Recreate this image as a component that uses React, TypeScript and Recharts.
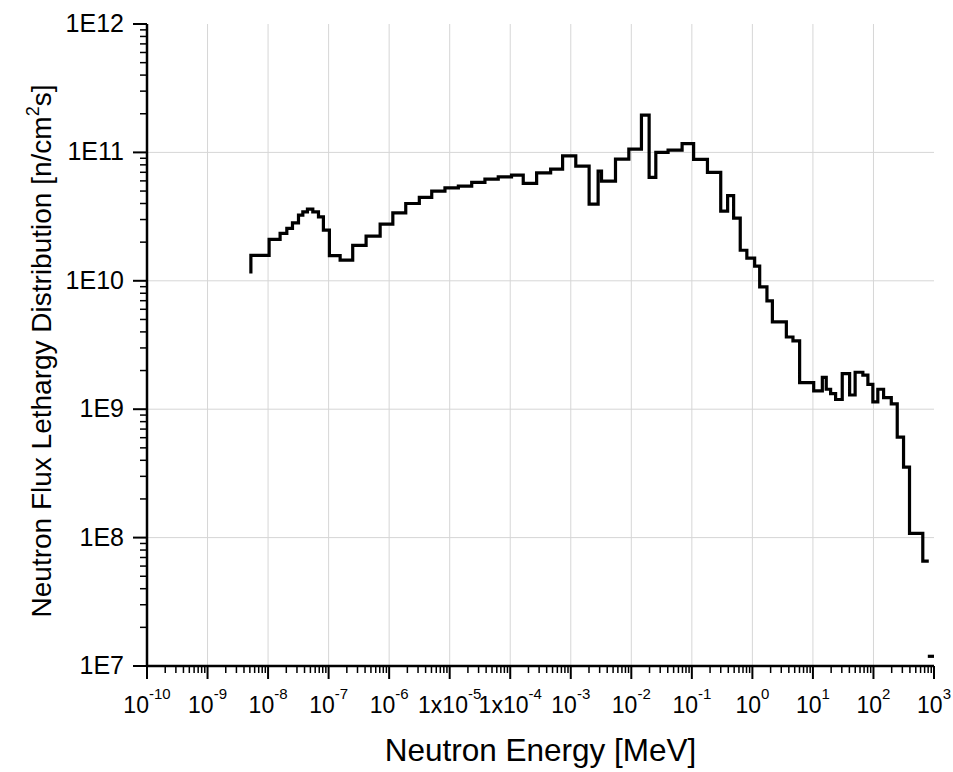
import { LineChart, Line, XAxis, YAxis, ReferenceLine, Label } from "recharts";

// Upper bin edge [MeV] and lethargy flux [n/cm^2 s] of each group (step plot)
const energyMeV = [
    5.2e-9, 1.04e-8, 1.58e-8, 2.04e-8, 2.53e-8, 3.18e-8, 3.75e-8, 4.47e-8, 5.48e-8, 6.8e-8,
    8.2e-8, 1.03e-7, 1.55e-7, 2.5e-7, 4.16e-7, 7.1e-7, 1.15e-6, 1.88e-6, 3.15e-6, 5.05e-6,
    8.35e-6, 1.39e-5, 2.31e-5, 3.82e-5, 6.34e-5, 1.05e-4, 1.64e-4, 2.73e-4, 4.65e-4, 7.33e-4,
    1.21e-3, 2.01e-3, 2.83e-3, 3.22e-3, 5.48e-3, 9.1e-3, 1.47e-2, 1.97e-2, 2.54e-2, 4.05e-2,
    6.9e-2, 0.107, 0.181, 0.30, 0.39, 0.49, 0.63, 0.81, 1.09, 1.32,
    1.74, 2.14, 3.64, 4.68, 6.03, 10.3, 14.3, 16.6, 19.6, 23.7,
    30.5, 40.4, 49.8, 66.8, 80.9, 97.7, 118, 147, 197, 247,
    314, 394, 653, 820,
];

const fluxLethargy = [
    1.14e10, 1.58e10, 2.1e10, 2.34e10, 2.56e10, 2.83e10, 3.25e10, 3.44e10, 3.61e10, 3.44e10,
    3.15e10, 2.48e10, 1.57e10, 1.45e10, 1.89e10, 2.23e10, 2.76e10, 3.38e10, 4.0e10, 4.46e10,
    4.99e10, 5.3e10, 5.46e10, 5.84e10, 6.19e10, 6.45e10, 6.65e10, 5.73e10, 6.93e10, 7.41e10,
    9.41e10, 7.82e10, 3.95e10, 7.15e10, 5.97e10, 8.87e10, 1.06e11, 1.95e11, 6.38e10, 1.0e11,
    1.04e11, 1.17e11, 8.82e10, 6.98e10, 3.49e10, 4.6e10, 3.08e10, 1.73e10, 1.5e10, 1.3e10,
    8.96e9, 6.97e9, 4.78e9, 3.65e9, 3.4e9, 1.61e9, 1.39e9, 1.77e9, 1.43e9, 1.32e9,
    1.19e9, 1.89e9, 1.29e9, 1.94e9, 1.84e9, 1.56e9, 1.14e9, 1.43e9, 1.23e9, 1.1e9,
    6.07e8, 3.54e8, 1.08e8, 6.56e7,
];

// last group, drawn on its own
const tailEnergy = [790, 1000];
const tailFlux = [1.19e7, 1.19e7];

const xDecades = [-10, -9, -8, -7, -6, -5, -4, -3, -2, -1, 0, 1, 2, 3];
const xTickBase = ["10", "10", "10", "10", "10", "1x10", "1x10", "10", "10", "10", "10", "10", "10", "10"];
const yDecades = [7, 8, 9, 10, 11, 12];
const yTickLabels = ["1E7", "1E8", "1E9", "1E10", "1E11", "1E12"];

const FONT = "Arial, 'Liberation Sans', sans-serif";

const spectrum = energyMeV.map((e, i) => ({ x: e, y: fluxLethargy[i] }));
const tail = tailEnergy.map((e, i) => ({ x: e, y: tailFlux[i] }));

// decade ticks plus 2..9 minors
const withMinors = (decades: number[]) => {
    const out: number[] = [];
    decades.forEach((d, i) => {
        out.push(Math.pow(10, d));
        if (i < decades.length - 1) {
            for (let m = 2; m <= 9; m++) out.push(m * Math.pow(10, d));
        }
    });
    return out;
};
const xTicks = withMinors(xDecades);
const yTicks = withMinors(yDecades);

const decadeOf = (v: number) => {
    const l = Math.log10(v);
    return Math.abs(l - Math.round(l)) < 1e-6 ? Math.round(l) : null;
};

const XTick = ({ x, y, payload }: any) => {
    const d = decadeOf(payload.value);
    if (d === null) {
        return <line x1={x} x2={x} y1={y} y2={y + 7} stroke="#000" strokeWidth={1.5} />;
    }
    const base = xTickBase[xDecades.indexOf(d)];
    return (
        <g>
            <line x1={x} x2={x} y1={y} y2={y + 13} stroke="#000" strokeWidth={2} />
            <text x={x} y={y + 47} textAnchor="middle" fontFamily={FONT} fontSize={23} fill="#000">
                <tspan>{base}</tspan>
                <tspan dy={-14} fontSize={15}>{d}</tspan>
            </text>
        </g>
    );
};

const YTick = ({ x, y, payload }: any) => {
    const d = decadeOf(payload.value);
    if (d === null) {
        return <line x1={x} x2={x - 7} y1={y} y2={y} stroke="#000" strokeWidth={1.5} />;
    }
    return (
        <g>
            <line x1={x} x2={x - 14} y1={y} y2={y} stroke="#000" strokeWidth={2} />
            <text x={x - 23} y={y + 8} textAnchor="end" fontFamily={FONT} fontSize={25} fill="#000">
                {yTickLabels[yDecades.indexOf(d)]}
            </text>
        </g>
    );
};

const YTitle = ({ viewBox }: any) => {
    const cx = viewBox.x + 51;
    const cy = viewBox.y + viewBox.height / 2 + 6;
    return (
        <text
            x={cx}
            y={cy}
            transform={`rotate(-90, ${cx}, ${cy})`}
            textAnchor="middle"
            fontFamily={FONT}
            fontSize={28}
            fill="#000"
        >
            <tspan>Neutron Flux Lethargy Distribution [n/cm</tspan>
            <tspan dy={-12} fontSize={18}>2</tspan>
            <tspan dy={12}>s]</tspan>
        </text>
    );
};

export default function App() {
    return (
        <div style={{ position: "absolute", left: 0, top: 0, width: 953, height: 772, background: "#fff" }}>
            <LineChart width={953} height={772} margin={{ top: 24, right: 19, bottom: 0, left: 0 }}>
                {xDecades.slice(1, -1).map((d) => (
                    <ReferenceLine key={`gx${d}`} x={Math.pow(10, d)} stroke="#d6d6d6" strokeWidth={1} />
                ))}
                {yDecades.slice(1, -1).map((d) => (
                    <ReferenceLine key={`gy${d}`} y={Math.pow(10, d)} stroke="#d6d6d6" strokeWidth={1} />
                ))}
                <XAxis
                    dataKey="x"
                    type="number"
                    scale="log"
                    domain={[1e-10, 1e3]}
                    allowDataOverflow
                    ticks={xTicks}
                    interval={0}
                    tick={<XTick />}
                    tickLine={false}
                    tickSize={0}
                    tickMargin={0}
                    height={106}
                    axisLine={{ stroke: "#000", strokeWidth: 2.5 }}
                >
                    <Label
                        value="Neutron Energy [MeV]"
                        position="insideBottom"
                        offset={11}
                        style={{ fontFamily: FONT, fontSize: 31.5, fill: "#000" }}
                    />
                </XAxis>
                <YAxis
                    dataKey="y"
                    type="number"
                    scale="log"
                    domain={[1e7, 1e12]}
                    allowDataOverflow
                    ticks={yTicks}
                    interval={0}
                    tick={<YTick />}
                    tickLine={false}
                    tickSize={0}
                    tickMargin={0}
                    width={147}
                    axisLine={{ stroke: "#000", strokeWidth: 2.5 }}
                >
                    <Label content={<YTitle />} />
                </YAxis>
                <Line
                    data={spectrum}
                    dataKey="y"
                    type="stepBefore"
                    stroke="#000"
                    strokeWidth={3.2}
                    dot={false}
                    isAnimationActive={false}
                />
                <Line
                    data={tail}
                    dataKey="y"
                    type="linear"
                    stroke="#000"
                    strokeWidth={3.2}
                    dot={false}
                    isAnimationActive={false}
                />
            </LineChart>
        </div>
    );
}
